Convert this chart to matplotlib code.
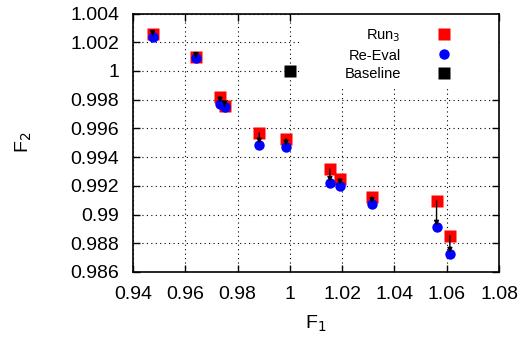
import matplotlib
matplotlib.use('Agg')
import matplotlib.pyplot as plt
from matplotlib.ticker import FuncFormatter
from matplotlib.patches import Rectangle

plt.rcParams['font.family'] = ['Liberation Sans', 'DejaVu Sans']

# data
f1 = [0.9475, 0.9641, 0.9733, 0.9750, 0.9883, 0.9985,
      1.0153, 1.0192, 1.0314, 1.0561, 1.0612]
run3_f2 = [1.00255, 1.00099, 0.99818, 0.99757, 0.99569, 0.99528,
           0.99316, 0.99247, 0.99123, 0.99096, 0.98852]
reeval_f2 = [1.00234, 1.00090, 0.99769, 0.99752, 0.99484, 0.99470,
             0.99217, 0.99198, 0.99070, 0.98912, 0.98724]
base_f1 = [1.0]
base_f2 = [1.0]

xticks = [0.94, 0.96, 0.98, 1.0, 1.02, 1.04, 1.06, 1.08]
yticks = [0.986, 0.988, 0.99, 0.992, 0.994, 0.996, 0.998, 1.0, 1.002, 1.004]

fig = plt.figure(figsize=(5.22, 3.38), dpi=100)
ax = fig.add_axes([0.2548, 0.1953, 0.7012, 0.7647])

ax.plot(f1, run3_f2, 's', color='#ff0000', ms=8.5, mec='none', label='Run$_3$', zorder=3)
ax.plot(f1, reeval_f2, 'o', color='#0000ff', ms=7.5, mec='none', label='Re-Eval', zorder=4)
for x, y0, y1 in zip(f1, run3_f2, reeval_f2):
    ax.annotate('', xy=(x, y1), xytext=(x, y0),
                arrowprops=dict(arrowstyle='-|>', color='black', lw=1.0,
                                mutation_scale=7, shrinkA=0, shrinkB=1),
                zorder=5)
ax.plot(base_f1, base_f2, 's', color='black', ms=8.5, mec='none', label='Baseline', zorder=3)

ax.set_xlim(0.94, 1.08)
ax.set_ylim(0.986, 1.004)
ax.set_xticks(xticks)
ax.set_yticks(yticks)
fmt = FuncFormatter(lambda v, p: '%g' % round(v, 4))
ax.xaxis.set_major_formatter(fmt)
ax.yaxis.set_major_formatter(fmt)
ax.tick_params(direction='in', top=True, right=True, length=5, width=1,
               labelsize=14, pad=10)
ax.grid(True, color='black', linestyle=(0, (1, 3)), linewidth=0.8)
ax.set_axisbelow(True)
for s in ax.spines.values():
    s.set_linewidth(1.2)
    s.set_zorder(6)

# white block behind the key, as gnuplot does
ax.add_patch(Rectangle((0.46, 0.72), 0.54, 0.28, transform=ax.transAxes,
                       facecolor='white', edgecolor='none', zorder=2))

ax.set_xlabel('F$_1$', fontsize=14, labelpad=8)
ax.set_ylabel('F$_2$', fontsize=14, labelpad=26)

leg = ax.legend(loc='upper right', bbox_to_anchor=(0.8697, 0.946),
                frameon=False, fontsize=10.5, markerfirst=False,
                handletextpad=2.45, borderpad=0, borderaxespad=0,
                labelspacing=0.3, handlelength=1.0)
for t in leg.get_texts():
    t.set_ha('right')

fig.savefig('out.png', dpi=100)
